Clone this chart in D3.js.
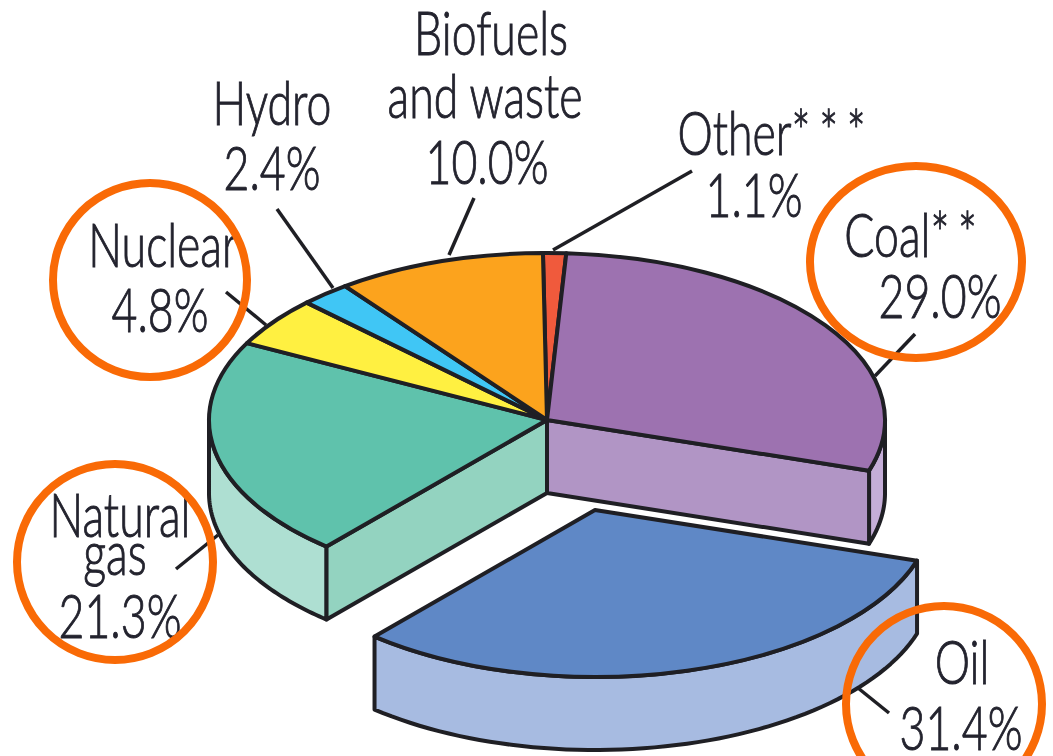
<!DOCTYPE html>
<html><head><meta charset="utf-8">
<script src="https://cdnjs.cloudflare.com/ajax/libs/d3/7.8.5/d3.min.js"></script>
<style>html,body{margin:0;background:#fff}svg{display:block}text{font-family:"Lato","Liberation Sans",sans-serif;font-weight:300;font-size:62px;fill:#23232e;stroke:#23232e;stroke-width:1px;text-anchor:middle}</style>
</head><body><svg id="c" width="1053" height="756"></svg>
<script>
// data
const categories = ["Other***","Coal**","Oil","Natural gas","Nuclear","Hydro","Biofuels and waste"];
const shares = [1.1,29.0,31.4,21.3,4.8,2.4,10.0];
const topColors = ["#f05a3c","#9d72b0","#5f88c6","#5fc2ac","#fff041","#40c6f5","#fca31d"];
// layout
const labelLines = [
 ["Biofuels",491,55],["and waste",485,118],["10.0%",487,184],
 ["Hydro",272,125],["2.4%",272,190],
 ["Other***",776,155],["1.1%",754,217],
 ["Nuclear",163,267],["4.8%",160,332],
 ["Natural",120,537],["gas",115,575],["21.3%",120,638],
 ["Coal**",915,257],["29.0%",940,318],
 ["Oil",962,684],["31.4%",961,750]];
const leaders = [[277,209,333,288],[226,292,266,325],[474,198,449,255],[692,171,553,250],[915,334,875,376],[176,569,218,535],[858,688,889,713]];
const rings = [[150,280,97,97],[115,562,98,98],[916,262,106,96],[944,704,98,98]];
const cx=547, cy=420, rx=338, ry=167, depth=73, explode=[48,90], tilt=-0.012;
const ink="#1f1f24", sw=4;

const svg=d3.select("#c");
const pie=d3.pie().sort(null).value(d=>d).startAngle(tilt).endAngle(2*Math.PI+tilt)(shares);
const arc=d3.arc().innerRadius(0).outerRadius(rx);
const rimPt=a=>[rx*Math.sin(a), -ry*Math.cos(a)];
const rim=(a0,a1)=>{
  const n=60, s=d3.range(n+1).map(i=>a0+(a1-a0)*i/n);
  return d3.area().x(a=>rimPt(a)[0]).y0(a=>rimPt(a)[1]).y1(a=>rimPt(a)[1]+depth)(s);
};
const wall=a=>{const p=rimPt(a);return d3.line()([[0,0],p,[p[0],p[1]+depth],[0,depth]])+"Z";};
const style=(s,fill)=>s.attr("fill",fill).attr("stroke",ink).attr("stroke-width",sw).attr("stroke-linejoin","round");

const main=svg.append("g").attr("transform",`translate(${cx},${cy})`);
const coal=pie[1], oil=pie[2], gas=pie[3];
style(main.append("path").attr("d",rim(Math.PI/2,coal.endAngle)),"#c5aed8");
style(main.append("path").attr("d",wall(coal.endAngle)),"#b195c5");
style(main.append("path").attr("d",rim(gas.startAngle,Math.PI*1.5)),"#aedfd2");
style(main.append("path").attr("d",wall(gas.startAngle)),"#93d3c0");
pie.forEach((d,i)=>{ if(i===2) return;
  main.append("path").attr("d",arc(d)).attr("transform",`scale(1,${ry/rx})`)
    .attr("vector-effect","non-scaling-stroke")
    .attr("fill",topColors[i]).attr("stroke",ink).attr("stroke-width",sw).attr("stroke-linejoin","round");
});
const ex=svg.append("g").attr("transform",`translate(${cx+explode[0]},${cy+explode[1]})`);
style(ex.append("path").attr("d",rim(oil.startAngle,oil.endAngle)),"#a7bbe1");
ex.append("path").attr("d",arc(oil)).attr("transform",`scale(1,${ry/rx})`)
  .attr("vector-effect","non-scaling-stroke")
  .attr("fill",topColors[2]).attr("stroke",ink).attr("stroke-width",sw).attr("stroke-linejoin","round");

svg.selectAll("line.l").data(leaders).join("line").attr("class","l")
  .attr("x1",d=>d[0]).attr("y1",d=>d[1]).attr("x2",d=>d[2]).attr("y2",d=>d[3])
  .attr("stroke",ink).attr("stroke-width",3.5);
const xs=0.72;
svg.selectAll("text").data(labelLines).join("text")
  .attr("transform",d=>`translate(${d[1]},${d[2]}) scale(${xs},1)`)
  .each(function(d){
    const t=d3.select(this), m=d[0].match(/^([^*]*)(\*+)$/);
    if(m){t.append("tspan").text(m[1]);t.append("tspan").attr("letter-spacing","12px").text(m[2]);}
    else t.text(d[0]);
  });
svg.selectAll("ellipse").data(rings).join("ellipse")
  .attr("cx",d=>d[0]).attr("cy",d=>d[1]).attr("rx",d=>d[2]).attr("ry",d=>d[3])
  .attr("fill","none").attr("stroke","#f96a06").attr("stroke-width",8);
</script></body></html>
